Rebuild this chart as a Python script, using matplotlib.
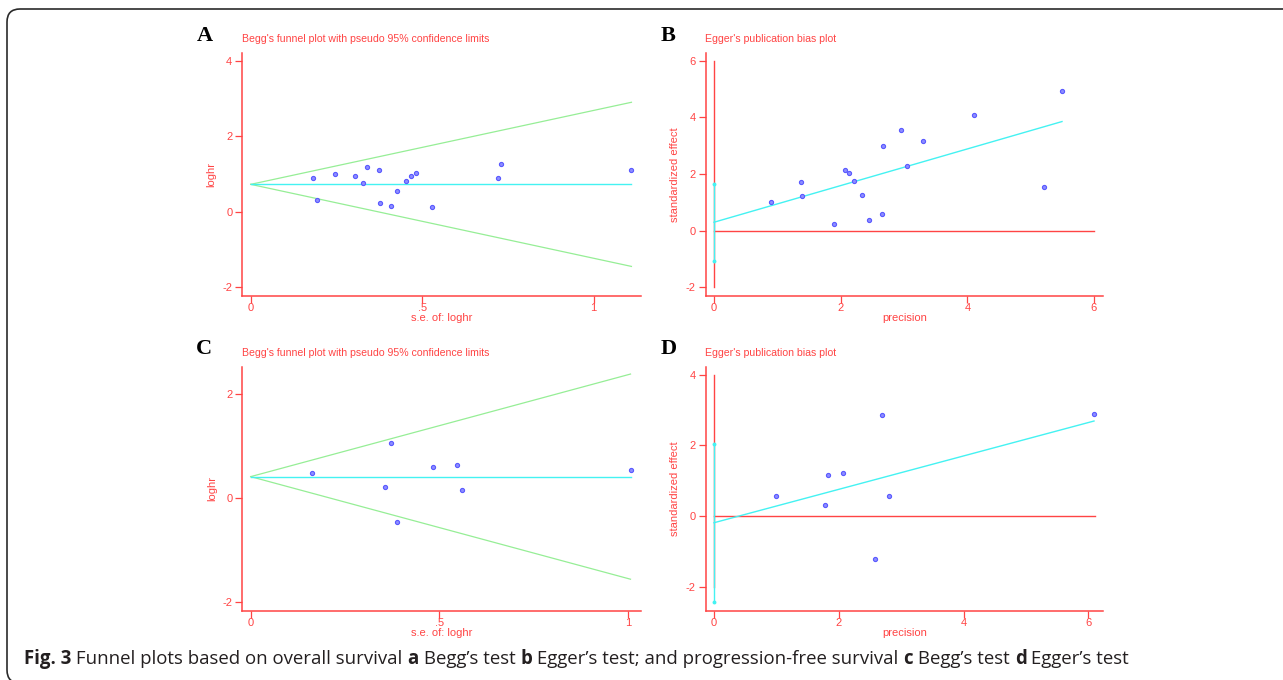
import numpy as np
import matplotlib
matplotlib.use("Agg")
import matplotlib.pyplot as plt
from matplotlib.patches import FancyBboxPatch

# overall survival, Begg's funnel (A)
os_se = [0.182, 0.193, 0.245, 0.304, 0.327, 0.339, 0.373, 0.377, 0.410,
         0.427, 0.453, 0.468, 0.483, 0.529, 0.720, 0.731, 1.110]
os_loghr = [0.894, 0.300, 0.990, 0.947, 0.752, 1.186, 1.106, 0.221, 0.142,
            0.540, 0.796, 0.947, 1.027, 0.124, 0.894, 1.248, 1.106]
os_pooled = 0.72

# overall survival, Egger's plot (B)
os_prec = [0.90, 1.368, 1.395, 1.889, 2.063, 2.13, 2.205, 2.342, 2.447,
           2.653, 2.674, 2.953, 3.047, 3.295, 4.10, 5.205, 5.495]
os_std = [1.00, 1.73, 1.235, 0.247, 2.13, 2.05, 1.75, 1.27, 0.376,
          0.588, 2.99, 3.54, 2.29, 3.18, 4.08, 1.53, 4.92]
os_egger = (0.294, 0.647)        # intercept, slope
os_ci = (-1.09, 1.635)

# progression-free survival, Begg's funnel (C)
pfs_se = [0.163, 0.356, 0.372, 0.387, 0.482, 0.546, 0.560, 1.006]
pfs_loghr = [0.481, 0.212, 1.064, -0.462, 0.596, 0.635, 0.167, 0.551]
pfs_pooled = 0.417

# progression-free survival, Egger's plot (D)
pfs_prec = [0.988, 1.784, 1.832, 2.067, 2.575, 2.692, 2.799, 6.09]
pfs_std = [0.558, 0.302, 1.163, 1.229, -1.21, 2.873, 0.577, 2.89]
pfs_egger = (-0.189, 0.473)
pfs_ci = (-2.43, 2.04)

W, H = 1283, 680
RED = "#ff4444"
CYAN = "#44f2f2"
GREEN = "#96ee96"
DOT = "#5a5aff"

plt.rcParams["font.family"] = ["Liberation Sans", "DejaVu Sans"]
plt.rcParams["axes.unicode_minus"] = False

fig = plt.figure(figsize=(W / 100, H / 100), dpi=100)


def make_ax(left, top, right, bottom):
    ax = fig.add_axes([left / W, 1 - bottom / H, (right - left) / W, (bottom - top) / H])
    for s in ("top", "right"):
        ax.spines[s].set_visible(False)
    for s in ("left", "bottom"):
        ax.spines[s].set_color(RED)
        ax.spines[s].set_linewidth(1.1)
    ax.tick_params(colors=RED, labelcolor=RED, labelsize=8, length=5, width=0.9)
    ax.tick_params(axis="x", pad=0)
    ax.tick_params(axis="y", pad=2)
    ax.patch.set_alpha(0)
    return ax


def dots(ax, x, y):
    ax.plot(x, y, "o", ms=3.0, mfc="#8c8cff", mec=DOT, mew=0.8, zorder=5)


def begg(ax, se, loghr, pooled, yt):
    smax = max(se)
    s = np.array([0, smax])
    ax.plot(s, pooled + 1.96 * s, color=GREEN, lw=0.9)
    ax.plot(s, pooled - 1.96 * s, color=GREEN, lw=0.9)
    ax.plot(s, [pooled, pooled], color=CYAN, lw=1.0)
    dots(ax, se, loghr)
    ax.set_xticks([0, 0.5, 1])
    ax.set_xticklabels(["0", ".5", "1"])
    ax.set_yticks(yt)
    ax.set_xlabel("s.e. of: loghr", color=RED, fontsize=8, labelpad=0)
    ax.set_ylabel("loghr", color=RED, fontsize=8, labelpad=4)


def egger(ax, prec, std, fit, ci, yt, ytop, xend):
    pmax = max(prec)
    ax.plot([0, 0], [yt[0], ytop], color=RED, lw=1.0)
    ax.plot([0, xend], [0, 0], color=RED, lw=1.0)
    ax.plot([0, pmax], [fit[0], fit[0] + fit[1] * pmax], color=CYAN, lw=1.0)
    ax.plot([0, 0], ci, color=CYAN, lw=1.0, marker="o", ms=1.8)
    dots(ax, prec, std)
    ax.set_xticks([0, 2, 4, 6])
    ax.set_yticks(yt)
    ax.set_xlabel("precision", color=RED, fontsize=8, labelpad=0)
    ax.set_ylabel("standardized effect", color=RED, fontsize=8, labelpad=4)


axA = make_ax(242, 52.7, 640.7, 296)
begg(axA, os_se, os_loghr, os_pooled, [-2, 0, 2, 4])
axA.set_xlim(-0.0254, 1.137)
axA.set_ylim(-2.24, 4.21)

axB = make_ax(705.7, 52.7, 1103.3, 296)
egger(axB, os_prec, os_std, os_egger, os_ci, [-2, 0, 2, 4, 6], 6, 6.0)
axB.set_xlim(-0.131, 6.147)
axB.set_ylim(-2.31, 6.28)

axC = make_ax(242.3, 366.7, 640.7, 610.7)
begg(axC, pfs_se, pfs_loghr, pfs_pooled, [-2, 0, 2])
axC.set_xlim(-0.0222, 1.033)
axC.set_ylim(-2.16, 2.53)

axD = make_ax(705.7, 366.7, 1103.3, 610.7)
egger(axD, pfs_prec, pfs_std, pfs_egger, pfs_ci, [-2, 0, 2, 4], 4, 6.1)
axD.set_xlim(-0.133, 6.239)
axD.set_ylim(-2.68, 4.23)

# panel letters and titles
for letter, x, y in [("A", 205, 36), ("B", 668, 36), ("C", 204, 349), ("D", 669, 349)]:
    fig.text(x / W, 1 - y / H, letter, ha="center", va="center", fontsize=16,
             fontweight="bold", family="Liberation Serif", color="black")

begg_title = "Begg's funnel plot with pseudo 95% confidence limits"
egger_title = "Egger's publication bias plot"
for txt, x, y in [(begg_title, 241.7, 39), (egger_title, 705, 39),
                  (begg_title, 241.7, 353), (egger_title, 705, 353)]:
    fig.text(x / W, 1 - y / H, txt, ha="left", va="center", fontsize=7.6, color=RED)

# caption with bold runs
caption = [("Fig. 3", True), (" Funnel plots based on overall survival ", False),
           ("a", True), (" Begg\u2019s test ", False), ("b", True),
           (" Egger\u2019s test; and progression-free survival ", False),
           ("c", True), (" Begg\u2019s test ", False), ("d", True),
           (" Egger\u2019s test", False)]
fig.canvas.draw()
renderer = fig.canvas.get_renderer()
xpos = 24
for txt, bold in caption:
    t = fig.text(xpos / W, 1 - 659 / H, txt, ha="left", va="center", fontsize=13.4,
                 family="Open Sans", fontweight="bold" if bold else "normal",
                 color="#231f20")
    bb = t.get_window_extent(renderer)
    xpos += bb.width

frame = FancyBboxPatch((7, -3), 1400, 674, boxstyle="round,pad=0,rounding_size=13",
                       fill=False, ec="#2a2a2a", lw=1.2, transform=None)
fig.patches.append(frame)

fig.savefig("out.png", dpi=100)
